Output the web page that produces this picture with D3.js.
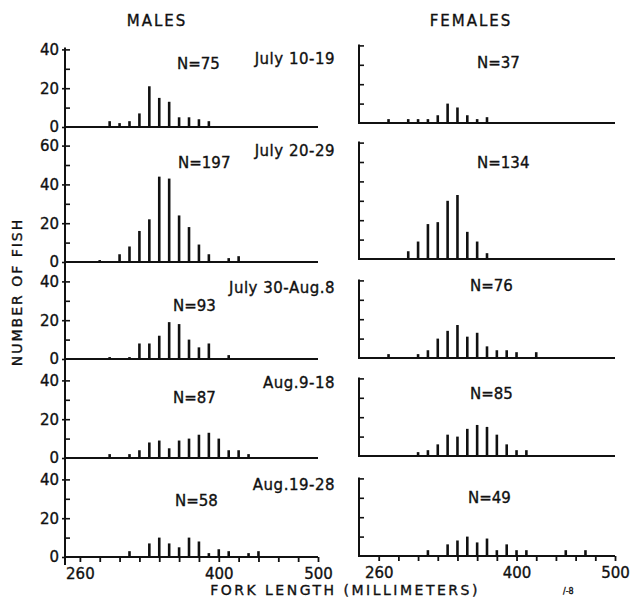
<!DOCTYPE html>
<html>
<head>
<meta charset="utf-8">
<script src="https://cdn.jsdelivr.net/npm/d3@7"></script>
<style>
  body { margin: 0; background: #fff; }
  text { font-family: "DejaVu Sans", sans-serif; fill: #111; stroke: #111; stroke-width: 0.35px; }
</style>
</head>
<body>
<div id="chart"></div>
<script>
// sampling periods and sample sizes
const periods = ["July 10-19", "July 20-29", "July 30-Aug.8", "Aug.9-18", "Aug.19-28"];
const maleN = [75, 197, 93, 87, 58];
const femaleN = [37, 134, 76, 85, 49];

// fork length classes (mm) and number of fish, one row per period
const maleLengths = [
  [290, 300, 310, 320, 330, 340, 350, 360, 370, 380, 390],
  [280, 300, 310, 320, 330, 340, 350, 360, 370, 380, 390, 410, 420],
  [290, 310, 320, 330, 340, 350, 360, 370, 380, 390, 410],
  [290, 310, 320, 330, 340, 350, 360, 370, 380, 390, 400, 410, 420, 430],
  [310, 330, 340, 350, 360, 370, 380, 390, 400, 410, 430, 440]
];
const maleCounts = [
  [3, 2, 3, 7, 21, 15, 13, 5, 5, 4, 3],
  [1, 4, 8, 16, 22, 44, 43, 24, 18, 9, 4, 2, 3],
  [1, 1, 8, 8, 12, 19, 18, 10, 6, 8, 2],
  [2, 2, 4, 8, 9, 5, 9, 10, 12, 13, 10, 4, 4, 2],
  [3, 7, 10, 7, 5, 10, 8, 2, 4, 3, 2, 3]
];
const femaleLengths = [
  [270, 290, 300, 310, 320, 330, 340, 350, 360, 370],
  [290, 300, 310, 320, 330, 340, 350, 360, 370],
  [270, 300, 310, 320, 330, 340, 350, 360, 370, 380, 390, 400, 420],
  [300, 310, 320, 330, 340, 350, 360, 370, 380, 390, 400, 410],
  [310, 330, 340, 350, 360, 370, 380, 390, 400, 410, 450, 470]
];
const femaleCounts = [
  [2, 2, 2, 2, 4, 10, 8, 4, 2, 3],
  [4, 9, 18, 19, 30, 33, 14, 9, 3],
  [2, 2, 4, 10, 14, 17, 11, 13, 6, 4, 4, 3, 3],
  [2, 3, 6, 11, 10, 14, 16, 15, 11, 6, 3, 3],
  [3, 6, 8, 10, 7, 9, 3, 6, 3, 3, 3, 3]
];

// axis ticks
const yMax = [40, 60, 40, 40, 40];
const xTickLabels = [260, 400, 500];
const xTickStep = 20;

const width = 640;
const height = 605;
const unit = 1.94; // px per fish

const svg = d3.select("#chart")
  .append("svg")
  .attr("width", width)
  .attr("height", height);

const maleBase = [127, 262, 359, 458, 557];
const femaleBase = [123, 259, 358, 456, 556];

const xMale = d3.scaleLinear().domain([245, 500]).range([65, 318]);
const xFemale = d3.scaleLinear().domain([240, 500]).range([359, 615]);

const drawPanel = (g, x, base, max, lengths, counts) => {
  const y = d3.scaleLinear().domain([0, max]).range([base, base - max * unit]);

  g.append("line")
    .attr("x1", x.range()[0]).attr("x2", x.range()[1])
    .attr("y1", base).attr("y2", base)
    .style("stroke", "#111")
    .style("stroke-width", 2);

  g.append("g")
    .selectAll("line")
    .data(lengths.map((d, i) => ({ len: d, n: counts[i] })))
    .join("line")
    .attr("x1", d => x(d.len)).attr("x2", d => x(d.len))
    .attr("y1", base)
    .attr("y2", d => y(d.n))
    .style("stroke", "#111")
    .style("stroke-width", 2.6);

  // inward ticks every 10 fish
  const inner = g.append("g")
    .attr("transform", `translate(${x.range()[0]},0)`)
    .call(d3.axisRight(y).tickValues(d3.range(10, max + 1, 10)).tickSize(5).tickFormat(""));
  inner.select(".domain").remove();
  inner.selectAll("line").style("stroke", "#111").style("stroke-width", 1.6);
  return y;
};

// male panels
periods.forEach((p, i) => {
  const g = svg.append("g");
  const y = drawPanel(g, xMale, maleBase[i], yMax[i], maleLengths[i], maleCounts[i]);
  const left = g.append("g")
    .attr("transform", `translate(${xMale.range()[0]},0)`)
    .call(d3.axisLeft(y).tickValues(d3.range(0, yMax[i] + 1, 20)).tickSize(3).tickPadding(3));
  left.select(".domain").remove();
  left.selectAll("line").style("stroke", "#111").style("stroke-width", 1.6);
  left.selectAll("text")
    .style("font-size", "15px")
    .style("font-family", "DejaVu Sans, sans-serif")
    .style("fill", "#111");
});

// continuous male y axis
svg.append("line")
  .attr("x1", xMale.range()[0]).attr("x2", xMale.range()[0])
  .attr("y1", maleBase[0] - yMax[0] * unit - 2).attr("y2", maleBase[4] + 8)
  .style("stroke", "#111")
  .style("stroke-width", 2);

// female panels, each with its own bracket axis
periods.forEach((p, i) => {
  const g = svg.append("g");
  const y = drawPanel(g, xFemale, femaleBase[i], yMax[i], femaleLengths[i], femaleCounts[i]);
  g.append("line")
    .attr("x1", xFemale.range()[0]).attr("x2", xFemale.range()[0])
    .attr("y1", y(yMax[i]) - 1).attr("y2", femaleBase[i] + 1)
    .style("stroke", "#111")
    .style("stroke-width", 2);
});

// bottom length axes
const bottomAxis = (x, base) => {
  const ax = svg.append("g")
    .attr("transform", `translate(0,${base})`)
    .call(d3.axisBottom(x)
      .tickValues(d3.range(260, 501, xTickStep))
      .tickSize(5)
      .tickPadding(6)
      .tickFormat(d => xTickLabels.includes(d) ? d : ""));
  ax.select(".domain").remove();
  ax.selectAll("line").style("stroke", "#111").style("stroke-width", 1.8);
  ax.selectAll("text")
    .style("font-size", "15px")
    .style("font-family", "DejaVu Sans, sans-serif")
    .style("fill", "#111");
};
bottomAxis(xMale, maleBase[4]);
bottomAxis(xFemale, femaleBase[4]);

// sample size and period labels
const maleNPos = [[177, 69], [178, 168], [173, 311], [173, 403], [175, 506]];
const femaleNPos = [[477, 68], [477, 168], [470, 291], [470, 399], [468, 503]];
const periodY = [64, 156, 293, 388, 490];

svg.append("g")
  .selectAll("text")
  .data(maleN)
  .join("text")
  .attr("x", (d, i) => maleNPos[i][0])
  .attr("y", (d, i) => maleNPos[i][1])
  .style("font-size", "15px")
  .text(d => `N=${d}`);

svg.append("g")
  .selectAll("text")
  .data(femaleN)
  .join("text")
  .attr("x", (d, i) => femaleNPos[i][0])
  .attr("y", (d, i) => femaleNPos[i][1])
  .style("font-size", "15px")
  .text(d => `N=${d}`);

svg.append("g")
  .selectAll("text")
  .data(periods)
  .join("text")
  .attr("x", 335)
  .attr("y", (d, i) => periodY[i])
  .attr("text-anchor", "end")
  .style("font-size", "15px")
  .style("letter-spacing", "0.5px")
  .text(d => d);

// titles
svg.append("text")
  .attr("x", 157).attr("y", 26)
  .attr("text-anchor", "middle")
  .style("font-size", "15px")
  .style("letter-spacing", "2px")
  .text("MALES");

svg.append("text")
  .attr("x", 471).attr("y", 26)
  .attr("text-anchor", "middle")
  .style("font-size", "15px")
  .style("letter-spacing", "2px")
  .text("FEMALES");

svg.append("text")
  .attr("transform", "translate(22,292) rotate(-90)")
  .attr("text-anchor", "middle")
  .style("font-size", "14px")
  .style("letter-spacing", "2px")
  .text("NUMBER OF FISH");

svg.append("text")
  .attr("x", 345).attr("y", 595)
  .attr("text-anchor", "middle")
  .style("font-size", "14px")
  .style("letter-spacing", "2.5px")
  .text("FORK LENGTH (MILLIMETERS)");

svg.append("text")
  .attr("x", 563).attr("y", 594)
  .style("font-size", "8px")
  .text("/-8");
</script>
</body>
</html>
